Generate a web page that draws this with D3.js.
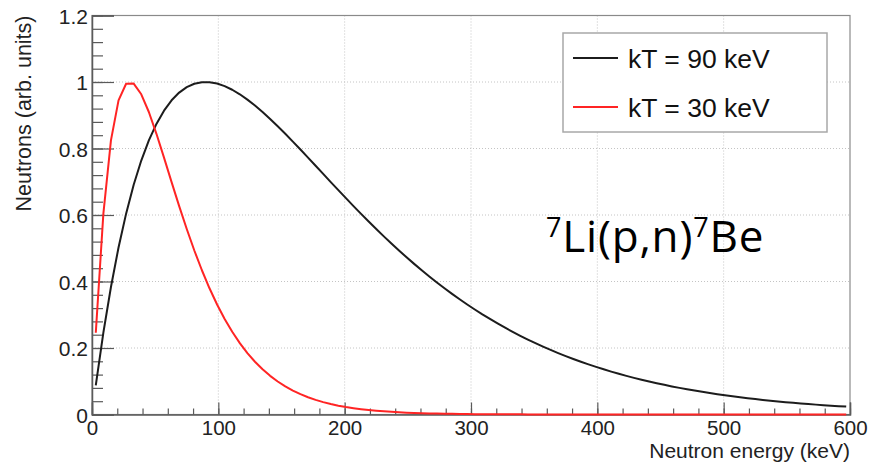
<!DOCTYPE html>
<html>
<head>
<meta charset="utf-8">
<script src="https://cdn.jsdelivr.net/npm/d3@7"></script>
<style>
  html, body { margin: 0; padding: 0; background: #fff; }
  svg { display: block; }
</style>
</head>
<body>
<svg id="chart" width="874" height="462"></svg>
<script>
// ---------------- data ----------------
// neutron energy bin centres (keV)
const energies = [3,9,15,21,27,33,39,45,51,57,63,69,75,81,87,93,99,105,111,117,123,129,135,141,147,153,159,165,171,177,183,189,195,201,207,213,219,225,231,237,243,249,255,261,267,273,279,285,291,297,303,309,315,321,327,333,339,345,351,357,363,369,375,381,387,393,399,405,411,417,423,429,435,441,447,453,459,465,471,477,483,489,495,501,507,513,519,525,531,537,543,549,555,561,567,573,579,585,591,597];

// kT = 90 keV
const kT90 = [0.0876,0.2460,0.3835,0.5023,0.6041,0.6908,0.7637,0.8244,0.8740,0.9138,
  0.9449,0.9682,0.9845,0.9947,0.9994,0.9995,0.9953,0.9876,0.9767,0.9631,
  0.9471,0.9293,0.9098,0.8889,0.8670,0.8442,0.8207,0.7968,0.7725,0.7480,
  0.7235,0.6990,0.6747,0.6506,0.6268,0.6034,0.5804,0.5578,0.5358,0.5142,
  0.4932,0.4728,0.4530,0.4338,0.4151,0.3970,0.3796,0.3628,0.3465,0.3309,
  0.3158,0.3012,0.2873,0.2739,0.2610,0.2487,0.2368,0.2255,0.2146,0.2042,
  0.1942,0.1847,0.1756,0.1669,0.1586,0.1507,0.1431,0.1359,0.1290,0.1224,
  0.1162,0.1102,0.1046,0.0992,0.0940,0.0892,0.0845,0.0801,0.0759,0.0719,
  0.0681,0.0645,0.0611,0.0579,0.0548,0.0518,0.0491,0.0464,0.0439,0.0416,
  0.0393,0.0372,0.0352,0.0333,0.0314,0.0297,0.0281,0.0266,0.0251,0.0237];

// kT = 30 keV
const kT30 = [0.2460,0.6041,0.8244,0.9449,0.9947,0.9953,0.9631,0.9098,0.8442,0.7725,
  0.6990,0.6268,0.5578,0.4932,0.4338,0.3796,0.3309,0.2873,0.2487,0.2146,
  0.1847,0.1586,0.1359,0.1162,0.0992,0.0845,0.0719,0.0611,0.0518,0.0439,
  0.0372,0.0314,0.0266,0.0224,0.0189,0.0159,0.0134,0.0113,0.0095,0.0080,
  0.0067,0.0056,0.0047,0.0039,0.0033,0.0028,0.0023,0.0019,0.0016,0.0014,
  0.0011,0.0009,0.0008,0.0007,0.0005,0.0005,0.0004,0.0003,0.0003,0.0002,
  0.0002,0.0002,0.0001,0.0001,0.0001,0.0001,0.0001,0,0,0,
  0,0,0,0,0,0,0,0,0,0,
  0,0,0,0,0,0,0,0,0,0,
  0,0,0,0,0,0,0,0,0,0];

const seriesNames = ["kT = 90 keV", "kT = 30 keV"];
const seriesColors = ["#1c1c1c", "#ff2424"];

const xMajorTicks = [0,100,200,300,400,500,600];
const xTickLabels = ["0","100","200","300","400","500","600"];
const yMajorTicks = [0,0.2,0.4,0.6,0.8,1,1.2];
const yTickLabels = ["0","0.2","0.4","0.6","0.8","1","1.2"];

const xTitle = "Neutron energy (keV)";
const yTitle = "Neutrons (arb. units)";

// ---------------- layout ----------------
const L = 92, R = 850, T = 15.5, B = 414.5;
const svg = d3.select("#chart");
const x = d3.scaleLinear().domain([0, 600]).range([L, R]);
const y = d3.scaleLinear().domain([0, 1.2]).range([B, T]);
const axisColor = "#5a5a5a";
const tickFont = "'Liberation Sans', Arial, Helvetica, sans-serif";

// grid
const grid = svg.append("g");
grid.selectAll("line.gx").data(xMajorTicks.slice(1, -1)).join("line")
  .attr("x1", d => x(d)).attr("x2", d => x(d)).attr("y1", T).attr("y2", B)
  .attr("stroke", "#c4c4c4").attr("stroke-width", 1).attr("stroke-dasharray", "1,2");
grid.selectAll("line.gy").data(yMajorTicks.slice(1, -1)).join("line")
  .attr("y1", d => y(d)).attr("y2", d => y(d)).attr("x1", L).attr("x2", R)
  .attr("stroke", "#c4c4c4").attr("stroke-width", 1).attr("stroke-dasharray", "1,2");

// frame
svg.append("rect").attr("x", L).attr("y", T).attr("width", R - L).attr("height", B - T)
  .attr("fill", "none").attr("stroke", "#8a8a8a").attr("stroke-width", 1.2);

// x axis minor
const xMinor = d3.range(0, 601, 20);
svg.append("g").attr("transform", `translate(0,${B})`)
  .call(d3.axisBottom(x).tickValues(xMinor).tickSize(-6).tickFormat(""))
  .call(g => g.select(".domain").remove())
  .call(g => g.selectAll("line").attr("stroke", axisColor).attr("stroke-width", 1.2));
// x axis major
svg.append("g").attr("transform", `translate(0,${B})`)
  .call(d3.axisBottom(x).tickValues(xMajorTicks).tickSize(-12).tickPadding(0)
    .tickFormat((d, i) => xTickLabels[i]))
  .call(g => g.select(".domain").attr("stroke", axisColor).attr("stroke-width", 1.5))
  .call(g => g.selectAll("line").attr("stroke", axisColor).attr("stroke-width", 1.2))
  .call(g => g.selectAll("text").attr("y", 20.5).attr("dy", null)
    .attr("font-family", tickFont).attr("font-size", 20.5).attr("fill", "#222"));

// y axis minor
const yMinor = d3.range(0, 31).map(i => i * 0.04);
svg.append("g").attr("transform", `translate(${L},0)`)
  .call(d3.axisLeft(y).tickValues(yMinor).tickSize(-11).tickFormat(""))
  .call(g => g.select(".domain").remove())
  .call(g => g.selectAll("line").attr("stroke", axisColor).attr("stroke-width", 1.2));
// y axis major
svg.append("g").attr("transform", `translate(${L},0)`)
  .call(d3.axisLeft(y).tickValues(yMajorTicks).tickSize(-22).tickPadding(0)
    .tickFormat((d, i) => yTickLabels[i]))
  .call(g => g.select(".domain").attr("stroke", axisColor).attr("stroke-width", 1.5))
  .call(g => g.selectAll("line").attr("stroke", axisColor).attr("stroke-width", 1.2))
  .call(g => g.selectAll("text").attr("x", -4).attr("dy", "0.36em")
    .attr("font-family", tickFont).attr("font-size", 21).attr("fill", "#222"));

// axis titles
svg.append("text").attr("x", R).attr("y", 458).attr("text-anchor", "end")
  .attr("font-family", tickFont).attr("font-size", 21).attr("fill", "#222").text(xTitle);
svg.append("text").attr("transform", `translate(31,${T}) rotate(-90)`).attr("text-anchor", "end")
  .attr("font-family", tickFont).attr("font-size", 21.5).attr("fill", "#222").text(yTitle);

// curves
const line = d3.line().x(d => x(d[0])).y(d => y(d[1]));
const seriesData = [kT90, kT30];
seriesData.forEach((vals, si) => {
  svg.append("path").datum(energies.map((e, i) => [e, vals[i]]))
    .attr("d", line).attr("fill", "none")
    .attr("stroke", seriesColors[si]).attr("stroke-width", 2).attr("stroke-linejoin", "round");
});

// legend
const lg = svg.append("g");
lg.append("rect").attr("x", 563).attr("y", 33).attr("width", 264).attr("height", 99)
  .attr("fill", "#fff").attr("stroke", "#a8a8a8").attr("stroke-width", 1.5);
const legY = [58, 107];
seriesNames.forEach((n, i) => {
  lg.append("line").attr("x1", 573).attr("x2", 618).attr("y1", legY[i]).attr("y2", legY[i])
    .attr("stroke", seriesColors[i]).attr("stroke-width", 2);
  lg.append("text").attr("x", 628).attr("y", legY[i]).attr("dy", "0.36em")
    .attr("font-family", tickFont).attr("font-size", 26.5).attr("fill", "#111").text(n);
});

// reaction annotation
const ann = svg.append("text").attr("x", 546).attr("y", 252)
  .attr("font-family", "'Open Sans', Lato, sans-serif").attr("font-size", 44)
  .attr("letter-spacing", 0.8).attr("fill", "#000");
ann.append("tspan").attr("font-size", 27).attr("dy", -15).text("7");
ann.append("tspan").attr("dy", 15).text("Li(p,n)");
ann.append("tspan").attr("font-size", 27).attr("dy", -15).text("7");
ann.append("tspan").attr("dy", 15).text("Be");
</script>
</body>
</html>
